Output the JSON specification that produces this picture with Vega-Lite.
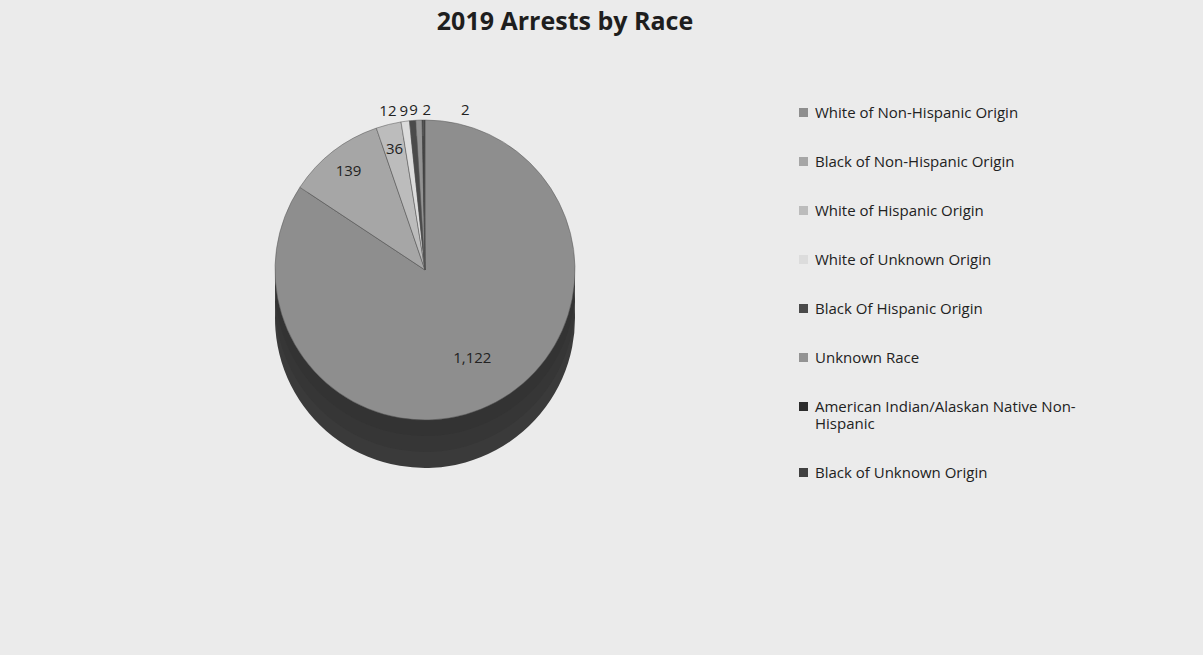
{
  "$schema": "https://vega.github.io/schema/vega-lite/v6.json",
  "width": 850,
  "height": 460,
  "autosize": {"type": "none"},
  "padding": {"top": 40, "left": 0, "right": 353, "bottom": 155},
  "background": "#ebebeb",
  "title": {"text": "2019 Arrests by Race", "font": "Open Sans", "fontSize": 25, "fontWeight": "bold", "color": "#1e1e1e", "anchor": "middle", "frame": "group", "dx": 140, "offset": 5},
  "config": {"view": {"stroke": null}, "text": {"font": "Open Sans"}},
  "data": {"values": [
    {"race": "White of Non-Hispanic Origin", "count": 1122, "order": 1},
    {"race": "Black of Non-Hispanic Origin", "count": 139, "order": 2},
    {"race": "White of Hispanic Origin", "count": 36, "order": 3},
    {"race": "White of Unknown Origin", "count": 12, "order": 4},
    {"race": "Black Of Hispanic Origin", "count": 9, "order": 5},
    {"race": "Unknown Race", "count": 9, "order": 6},
    {"race": "American Indian/Alaskan Native Non-Hispanic", "count": 2, "order": 7},
    {"race": "Black of Unknown Origin", "count": 2, "order": 8}
  ]},
  "encoding": {
    "theta": {"field": "count", "type": "quantitative", "stack": true},
    "order": {"field": "order", "type": "quantitative"}
  },
  "layer": [
    {"mark": {"type": "arc", "outerRadius": 150, "yOffset": 48, "color": "#3a3a3a"}, "encoding": {}},
    {"mark": {"type": "arc", "outerRadius": 150, "yOffset": 32, "color": "#363636"}, "encoding": {}},
    {"mark": {"type": "arc", "outerRadius": 150, "yOffset": 16, "color": "#333333"}, "encoding": {}},
    {
      "mark": {"type": "arc", "outerRadius": 150, "stroke": "#555555", "strokeWidth": 0.5},
      "encoding": {
        "color": {
          "field": "race", "type": "nominal", "sort": null,
          "scale": {
            "domain": ["White of Non-Hispanic Origin", "Black of Non-Hispanic Origin", "White of Hispanic Origin", "White of Unknown Origin", "Black Of Hispanic Origin", "Unknown Race", "American Indian/Alaskan Native Non-Hispanic", "Black of Unknown Origin"],
            "range": ["#8e8e8e", "#a6a6a6", "#bcbcbc", "#dcdcdc", "#4a4a4a", "#939393", "#2c2c2c", "#404040"]
          },
          "legend": {
            "title": null, "orient": "none", "legendX": 796, "legendY": 65,
            "symbolType": "square", "symbolSize": 81, "symbolStrokeWidth": 0, "labelOffset": 4,
            "labelFont": "Open Sans", "labelFontSize": 15, "labelColor": "#222222",
            "rowPadding": 33, "labelLimit": 400,
            "labelExpr": "datum.label == 'American Indian/Alaskan Native Non-Hispanic' ? ['American Indian/Alaskan Native Non-', 'Hispanic'] : datum.label"
          }
        }
      }
    },
    {
      "mark": {"type": "text", "radius": 100, "fontSize": 15, "color": "#222222"},
      "encoding": {"text": {"condition": {"test": "datum.order == 1", "field": "count", "type": "quantitative", "format": ","}, "value": ""}}
    },
    {
      "mark": {"type": "text", "radius": 125, "fontSize": 15, "color": "#222222"},
      "encoding": {"text": {"condition": {"test": "datum.order == 2 || datum.order == 3", "field": "count", "type": "quantitative", "format": ","}, "value": ""}}
    },
    {
      "mark": {"type": "text", "radius": 160, "dx": -16, "fontSize": 15, "color": "#222222"},
      "encoding": {"text": {"condition": {"test": "datum.order == 4", "field": "count", "type": "quantitative", "format": ","}, "value": ""}}
    },
    {
      "mark": {"type": "text", "radius": 160, "dx": -8, "fontSize": 15, "color": "#222222"},
      "encoding": {"text": {"condition": {"test": "datum.order == 5", "field": "count", "type": "quantitative", "format": ","}, "value": ""}}
    },
    {
      "mark": {"type": "text", "radius": 160, "dx": -5, "fontSize": 15, "color": "#222222"},
      "encoding": {"text": {"condition": {"test": "datum.order == 6", "field": "count", "type": "quantitative", "format": ","}, "value": ""}}
    },
    {
      "mark": {"type": "text", "radius": 160, "dx": 4, "fontSize": 15, "color": "#222222"},
      "encoding": {"text": {"condition": {"test": "datum.order == 7", "field": "count", "type": "quantitative", "format": ","}, "value": ""}}
    },
    {
      "mark": {"type": "text", "radius": 160, "dx": 41, "fontSize": 15, "color": "#222222"},
      "encoding": {"text": {"condition": {"test": "datum.order == 8", "field": "count", "type": "quantitative", "format": ","}, "value": ""}}
    }
  ]
}
